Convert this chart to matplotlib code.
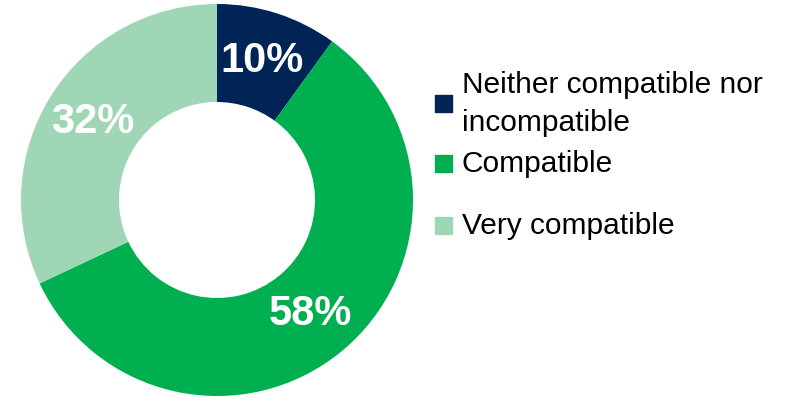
import matplotlib.pyplot as plt
from matplotlib.patches import Rectangle

plt.rcParams['font.family'] = ['Liberation Sans', 'DejaVu Sans']

categories = ["Neither compatible nor\nincompatible", "Compatible", "Very compatible"]
shares = [10, 58, 32]
COLORS = ["#002456", "#00B050", "#9FD7B6"]

W, H = 808, 402
fig = plt.figure(figsize=(W / 100, H / 100), dpi=100)

# donut: center (217, 201) px, radius 196 px
cx, cy, r = 217, 201, 196
ax = fig.add_axes([(cx - r) / W, (H - cy - r) / H, 2 * r / W, 2 * r / H])
wedges, texts, autotexts = ax.pie(
    shares, colors=COLORS, startangle=90, counterclock=False,
    radius=1, wedgeprops=dict(width=0.5, linewidth=0),
    autopct=lambda p: f"{p:.0f}%", pctdistance=0.75,
    textprops=dict(color="white", fontsize=30, fontweight="bold"))
ax.set_xlim(-1, 1)
ax.set_ylim(-1, 1)
ax.set_aspect("equal")
ax.axis("off")

# legend drawn by hand to follow the uneven spacing
leg_y = [104, 164, 226]  # px from top, centers of squares/text
sq = 17
for label, color, y in zip(categories, COLORS, leg_y):
    fig.patches.append(Rectangle(((435) / W, (H - y - sq / 2) / H), sq / W, sq / H,
                                 transform=fig.transFigure, color=color, figure=fig))
    fig.text(462 / W, (H - y) / H, label, fontsize=21.5, va="center", ha="left",
             color="black", linespacing=1.42)

fig.savefig("out.png", dpi=100)
